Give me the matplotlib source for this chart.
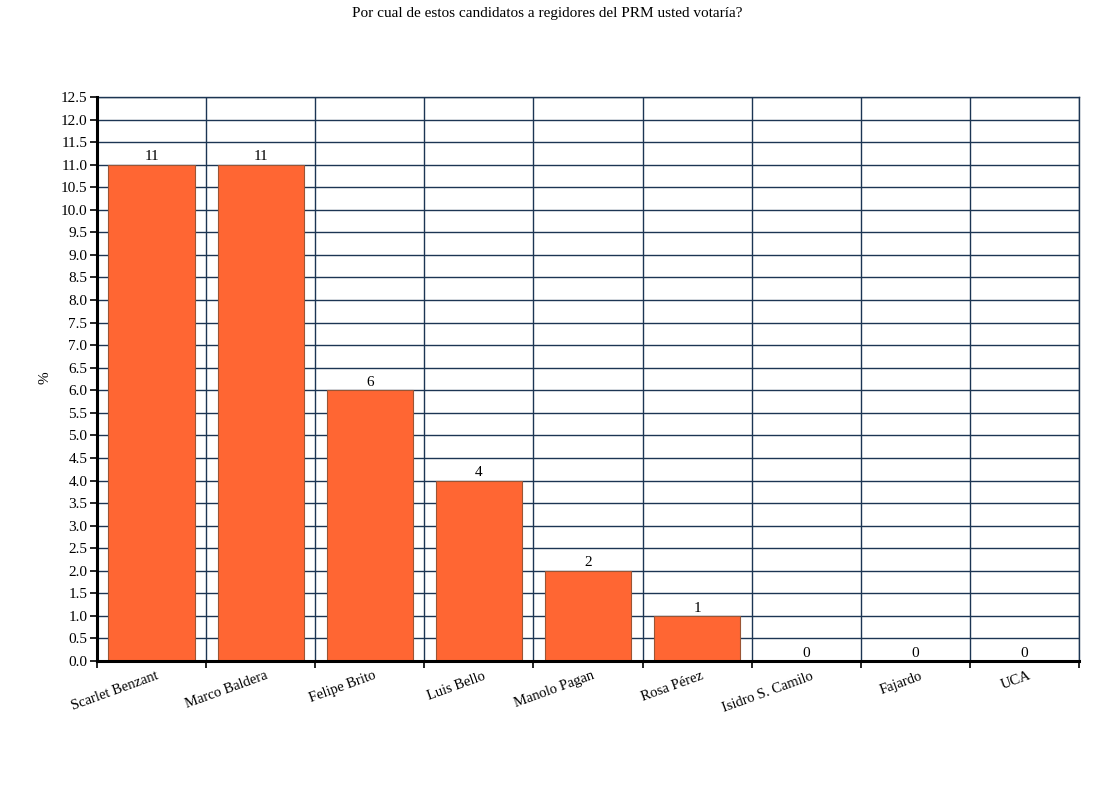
import matplotlib
matplotlib.use("Agg")
import matplotlib.pyplot as plt
import numpy as np
from matplotlib.transforms import ScaledTranslation

categories = ["Scarlet Benzant", "Marco Baldera", "Felipe Brito", "Luis Bello",
              "Manolo Pagan", "Rosa Pérez", "Isidro S. Camilo", "Fajardo", "UCA"]
values = [11, 11, 6, 4, 2, 1, 0, 0, 0]
title = "Por cual de estos candidatos a regidores del PRM usted votaría?"
ylabel = "%"

plt.rcParams['font.family'] = ['Liberation Serif', 'DejaVu Serif']

fig = plt.figure(figsize=(10.95, 8.05), dpi=100)
ax = fig.add_axes([97/1095, 1 - 661/805, (1079-97)/1095, (661-97)/805])

n = len(categories)
centers = np.arange(n) + 0.5
grid_color = "#1C3553"

ax.set_xlim(0, n)
ax.set_ylim(0, 12.5)
ax.set_yticks(np.arange(0, 12.51, 0.5))
ax.set_yticklabels([f"{v:.1f}" for v in np.arange(0, 12.51, 0.5)], fontsize=11)
ax.set_xticks(np.arange(0, n + 1), minor=False)
ax.set_xticklabels([])
ax.set_xticks(centers, minor=True)
ax.set_xticklabels(categories, minor=True, rotation=20, ha='right',
                   rotation_mode='anchor', fontsize=10.5)
ax.tick_params(axis='x', which='minor', length=0, pad=6)
ax.tick_params(axis='x', which='major', length=5, width=1.2, color='black', direction='out')
ax.tick_params(axis='y', length=5, width=1.2, color='black', direction='out', pad=2)
for lbl in ax.get_xticklabels(minor=True):
    lbl.set_transform(lbl.get_transform() + ScaledTranslation(4/100, 0, fig.dpi_scale_trans))

ax.grid(True, which='major', color=grid_color, linewidth=1.0)
ax.set_axisbelow(True)

bars = ax.bar(centers, values, width=0.79, color="#FF6633", edgecolor="#9A5535", linewidth=0.8, zorder=3)
for c, v in zip(centers, values):
    ax.text(c, v + 0.03, f"{v}", ha='center', va='bottom', fontsize=11, zorder=4)

for s in ['top', 'right']:
    ax.spines[s].set_color(grid_color)
    ax.spines[s].set_linewidth(1.0)
for s in ['left', 'bottom']:
    ax.spines[s].set_color('black')
    ax.spines[s].set_linewidth(2.2)
    ax.spines[s].set_zorder(5)

fig.text(45/1095, 1 - 378/805, ylabel, rotation=90, ha='center', va='center', fontsize=11)
fig.text(0.5, 1 - 13/805, title, ha='center', va='center', fontsize=11)

fig.savefig("out.png", dpi=100)
